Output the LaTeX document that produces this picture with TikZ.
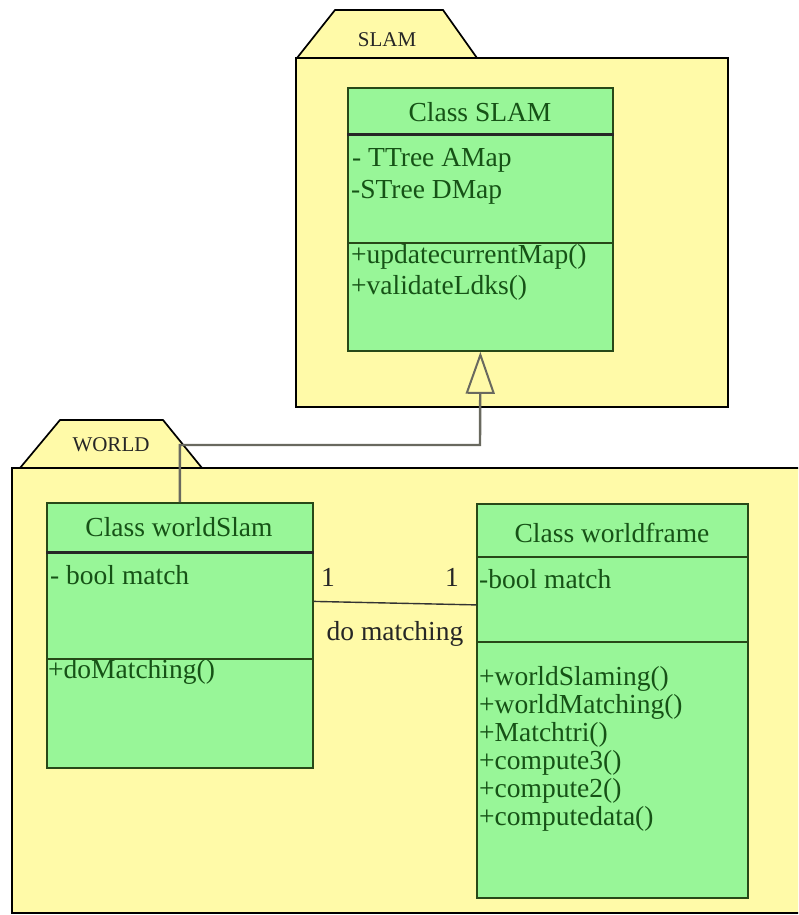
\documentclass[tikz,border=0pt]{standalone}
\usepackage{fontspec}
\setmainfont{Liberation Serif}
\usetikzlibrary{arrows.meta}
\definecolor{pkgyellow}{RGB}{255,250,168}
\definecolor{clsgreen}{RGB}{152,246,152}
\definecolor{clsline}{RGB}{40,72,24}
\definecolor{clstext}{RGB}{22,82,22}
\definecolor{genline}{RGB}{105,105,95}
\tikzset{
    pkg/.style={draw=black, fill=pkgyellow, line width=1.7pt},
    pkgname/.style={inner sep=0pt, text=black!85, font=\fontsize{21}{23}\selectfont},
    classbox/.style={draw=clsline, fill=clsgreen, line width=1.8pt, inner sep=0pt, anchor=north west},
    headline/.style={draw=black!85, line width=3pt},
    divline/.style={draw=clsline, line width=2pt},
    member/.style={anchor=west, inner sep=0pt, text=clstext, font=\fontsize{27.5}{29}\selectfont},
    title/.style={member, anchor=center},
    assoc/.style={draw=black!80, line width=1.4pt},
    assoclabel/.style={inner sep=0pt, text=black!85, font=\fontsize{27.5}{29}\selectfont},
    inherit/.style={draw=genline, line width=2.4pt, -{Triangle[open, length=42pt, width=29pt, line width=2pt]}}
}
\begin{document}
\begin{tikzpicture}[x=1pt, y=-1pt]
    \clip (0,0) rectangle (798,915);
    \fill[white] (0,0) rectangle (798,915);
    \draw[pkg] (297,58) -- (335,10) -- (443,10) -- (477,58) -- cycle;
    \draw[pkg] (296,58) rectangle (728,407);
    \node[pkgname] (slampkg) at (387,40) {SLAM};
    \draw[pkg] (20,468) -- (60,420) -- (163,420) -- (202,468) -- cycle;
    \draw[pkg] (12,468) rectangle (812,913);
    \node[pkgname] (worldpkg) at (111,445) {WORLD};

    \node[classbox, minimum width=265pt, minimum height=263pt] (slam) at (347,87) {};
    \draw[headline] ([yshift=-48pt]slam.north west) -- ([yshift=-48pt]slam.north east);
    \draw[divline] ([yshift=-156pt]slam.north west) -- ([yshift=-156pt]slam.north east);
    \node[title] (slamtitle) at (480,112) {Class SLAM};
    \node[member] (amap) at (352,160) {- TTree AMap};
    \node[member] (dmap) at (351,192) {-STree DMap};
    \node[member] (updmap) at (351,257) {+updatecurrentMap()};
    \node[member] (valldks) at (351,288) {+validateLdks()};

    \node[classbox, minimum width=266pt, minimum height=265pt] (wslam) at (46,502) {};
    \draw[headline] ([yshift=-50pt]wslam.north west) -- ([yshift=-50pt]wslam.north east);
    \draw[divline] ([yshift=-157pt]wslam.north west) -- ([yshift=-157pt]wslam.north east);
    \node[title] (wslamtitle) at (179,527) {Class worldSlam};
    \node[member] (wsmatch) at (50,575) {- bool match};
    \node[member] (domatch) at (48,672) {+doMatching()};

    \node[classbox, minimum width=271pt, minimum height=394pt] (wframe) at (476,503) {};
    \draw[divline] ([yshift=-54pt]wframe.north west) -- ([yshift=-54pt]wframe.north east);
    \draw[divline] ([yshift=-139pt]wframe.north west) -- ([yshift=-139pt]wframe.north east);
    \node[title] (wframetitle) at (612,533) {Class worldframe};
    \node[member] (wfmatch) at (479,579) {-bool match};
    \node[member] (wslaming) at (479,679) {+worldSlaming()};
    \node[member] (wmatching) at (479,707) {+worldMatching()};
    \node[member] (matchtri) at (479,735) {+Matchtri()};
    \node[member] (comp3) at (479,763) {+compute3()};
    \node[member] (comp2) at (479,791) {+compute2()};
    \node[member] (compdata) at (479,819) {+computedata()};

    \coordinate (bend) at (480,445);
    \draw[inherit] (wslam.north) |- (bend) -- (slam.south);

    \draw[assoc] ([yshift=34pt]wslam.east) -- ([yshift=96pt]wframe.west);
    \node[assoclabel] (multl) at (328,577) {1};
    \node[assoclabel] (multr) at (452,577) {1};
    \node[assoclabel] (assocname) at (395,634) {do matching};
\end{tikzpicture}
\end{document}
